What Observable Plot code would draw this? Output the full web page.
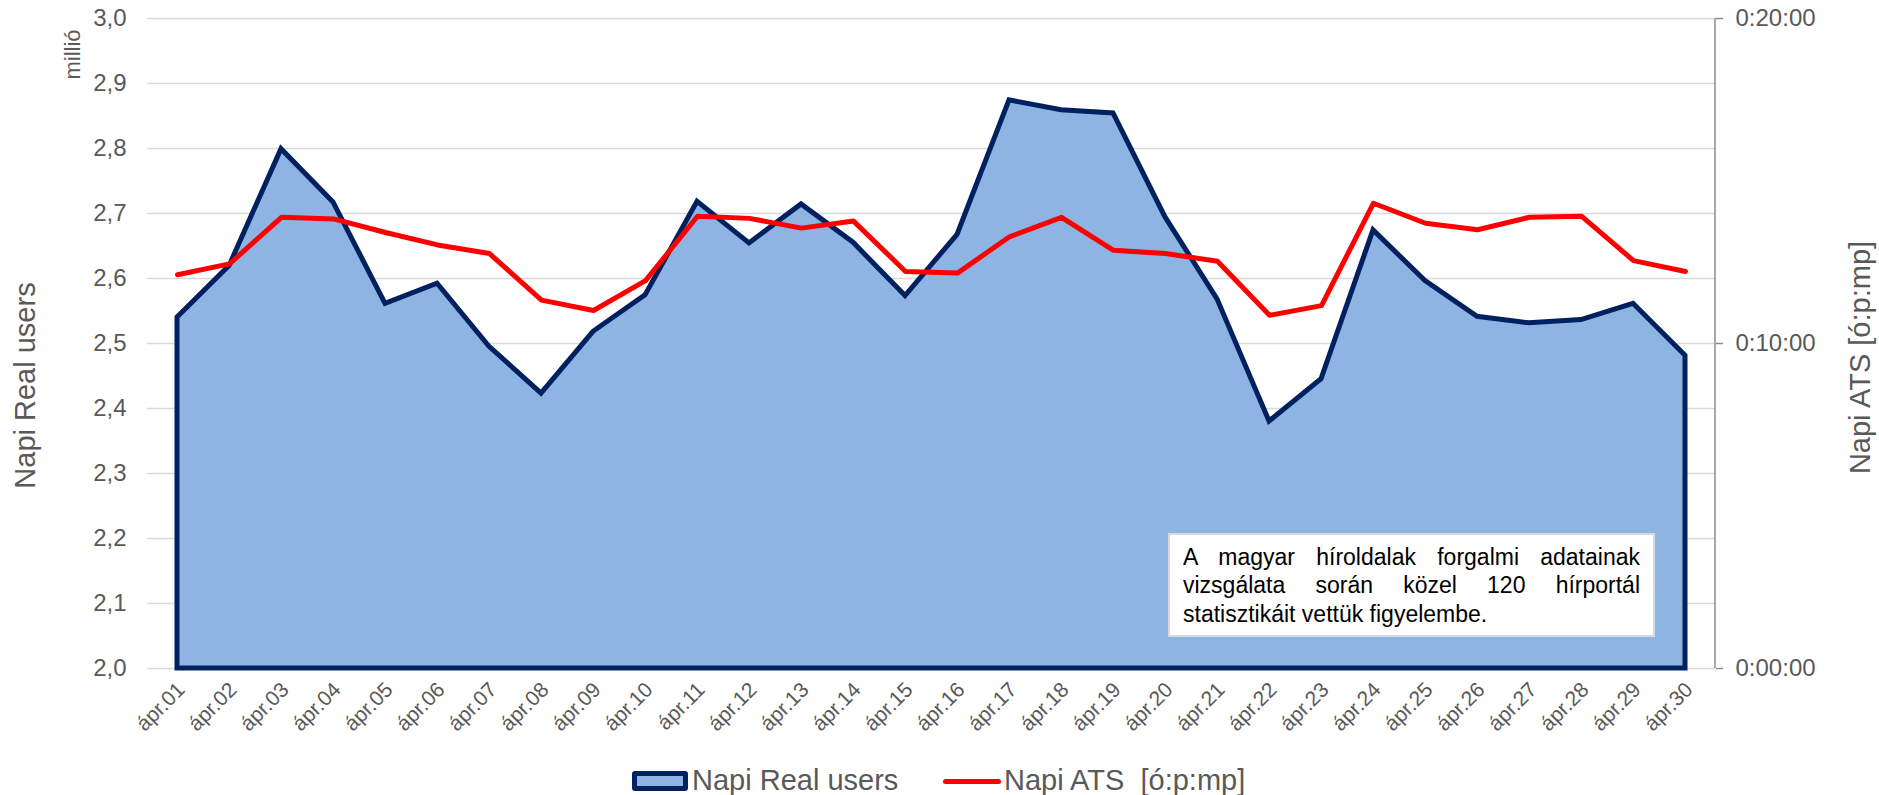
<!DOCTYPE html>
<html>
<head>
<meta charset="utf-8">
<script src="https://cdn.jsdelivr.net/npm/d3@7"></script>
<script src="https://cdn.jsdelivr.net/npm/@observablehq/plot@0.6"></script>
<style>
  html, body { margin: 0; padding: 0; background: #fff; }
  body { font-family: "Liberation Sans", Arial, sans-serif; }
  #wrap { position: relative; width: 1879px; height: 795px; overflow: hidden; }
  #chart svg { display: block; }
  .note {
    position: absolute; left: 1168px; top: 533px; width: 487px; height: 104px;
    box-sizing: border-box; border: 2px solid #D9D9D9; background: #fff;
    padding: 8px 13px 0 13px; font-size: 23px; line-height: 28.3px; color: #000;
  }
  .note .j { text-align: justify; text-align-last: justify; }
  .lg-sw1 { position: absolute; left: 632px; top: 771px; width: 56px; height: 20px; box-sizing: border-box;
    background: #8EB4E3; border: 5px solid #002060; border-radius: 3px; }
  .lg-sw2 { position: absolute; left: 943px; top: 778.5px; width: 58px; height: 5px; background: #FF0000; border-radius: 3px; }
  .lg-t { position: absolute; top: 765px; height: 30px; line-height: 30px; font-size: 29px; color: #595959; white-space: pre; }
</style>
</head>
<body>
<div id="wrap">
  <div id="chart"></div>
  <div class="note">
    <div class="j">A magyar híroldalak forgalmi adatainak</div>
    <div class="j">vizsgálata során közel 120 hírportál</div>
    <div>statisztikáit vettük figyelembe.</div>
  </div>
  <div class="lg-sw1"></div>
  <div class="lg-t" id="lg1" style="left:692px"></div>
  <div class="lg-sw2"></div>
  <div class="lg-t" id="lg2" style="left:1004px"></div>
</div>
<script>
// ---- data ----
const days = ["ápr.01","ápr.02","ápr.03","ápr.04","ápr.05","ápr.06","ápr.07","ápr.08","ápr.09","ápr.10",
              "ápr.11","ápr.12","ápr.13","ápr.14","ápr.15","ápr.16","ápr.17","ápr.18","ápr.19","ápr.20",
              "ápr.21","ápr.22","ápr.23","ápr.24","ápr.25","ápr.26","ápr.27","ápr.28","ápr.29","ápr.30"];
// Napi Real users (millió)
const realUsers = [2.540,2.619,2.799,2.717,2.561,2.592,2.495,2.423,2.518,2.574,
                   2.718,2.654,2.714,2.655,2.573,2.667,2.874,2.859,2.854,2.694,
                   2.568,2.380,2.445,2.674,2.596,2.541,2.531,2.536,2.561,2.481];
// Napi ATS (seconds)
const atsSeconds = [727,747,833,830,805,782,766,680,661,716,
                    835,831,813,826,733,730,797,833,772,766,
                    752,652,670,859,822,810,833,835,753,733];
const leftTicks = [2.0,2.1,2.2,2.3,2.4,2.5,2.6,2.7,2.8,2.9,3.0];
const rightTicksSec = [0, 600, 1200];
const seriesNames = ["Napi Real users", "Napi ATS  [ó:p:mp]"];
const leftTitle = "Napi Real users";
const rightTitle = "Napi ATS [ó:p:mp]";
const unitLabel = "millió";

// ---- build ----
const Y0 = 2, Y1 = 3, SEC_MAX = 1200;
const secToY = s => Y0 + (s / SEC_MAX) * (Y1 - Y0);
const yToSec = y => Math.round((y - Y0) / (Y1 - Y0) * SEC_MAX);
const fmtTime = s => {
  const h = Math.floor(s / 3600), m = Math.floor((s % 3600) / 60), sec = s % 60;
  return `${h}:${String(m).padStart(2,"0")}:${String(sec).padStart(2,"0")}`;
};
const rows = days.map((d, i) => ({day: d, users: realUsers[i], ats: atsSeconds[i]}));

const gray = "#595959";

const rightAxisLine = (index, scales, values, dim) => {
  const x = dim.width - dim.marginRight;
  const g = d3.create("svg:g");
  g.append("line")
    .attr("x1", x).attr("x2", x)
    .attr("y1", scales.y(Y1)).attr("y2", scales.y(Y0))
    .attr("stroke", "#8C8C8C").attr("stroke-width", 1.5);
  return g.node();
};

const chart = Plot.plot({
  width: 1879,
  height: 745,
  marginLeft: 147,
  marginRight: 164,
  marginTop: 18,
  marginBottom: 77,
  style: {fontFamily: '"Liberation Sans", Arial, sans-serif', color: gray, background: "#fff"},
  x: {type: "point", domain: days, padding: 0.5, align: 0.5, axis: null},
  y: {domain: [Y0, Y1]},
  marks: [
    Plot.gridY(leftTicks, {stroke: "#D9D9D9", strokeOpacity: 1, strokeWidth: 1.5}),
    Plot.areaY(rows, {x: "day", y1: () => Y0, y2: "users", fill: "#8EB4E3", stroke: "#002060",
      strokeWidth: 5, strokeLinejoin: "miter", strokeMiterlimit: 10}),
    Plot.lineY(rows, {x: "day", y: d => secToY(d.ats), stroke: "#FF0000", strokeWidth: 5,
      strokeLinecap: "round", strokeLinejoin: "round"}),
    Plot.axisY(leftTicks, {anchor: "left", tickSize: 0, tickPadding: 21, fontSize: 24, fill: gray,
      tickFormat: d => d.toFixed(1).replace(".", ","), label: null}),
    rightAxisLine,
    Plot.axisY(rightTicksSec.map(secToY), {anchor: "right", tickSize: 7, tickPadding: 13, fontSize: 24,
      stroke: "#8C8C8C", strokeWidth: 1.5, fill: gray, tickFormat: v => fmtTime(yToSec(v)), label: null}),
    Plot.text(days, {x: d => d, text: d => d, frameAnchor: "bottom", rotate: -45, textAnchor: "end",
      lineAnchor: "top", dx: -2, dy: 12, fontSize: 21, fill: gray}),
    Plot.text([leftTitle], {text: d => d, frameAnchor: "left", textAnchor: "middle", lineAnchor: "middle",
      dx: -122, dy: 42, rotate: -90, fontSize: 29, fill: gray}),
    Plot.text([rightTitle], {text: d => d, frameAnchor: "right", textAnchor: "middle", lineAnchor: "middle",
      dx: 145, dy: 14, rotate: -90, fontSize: 29, fill: gray}),
    Plot.text([unitLabel], {text: d => d, frameAnchor: "top-left", textAnchor: "middle", lineAnchor: "middle",
      dx: -75, dy: 36, rotate: -90, fontSize: 22, fill: gray})
  ]
});
document.getElementById("chart").appendChild(chart);
document.getElementById("lg1").textContent = seriesNames[0];
document.getElementById("lg2").textContent = seriesNames[1];
</script>
</body>
</html>
